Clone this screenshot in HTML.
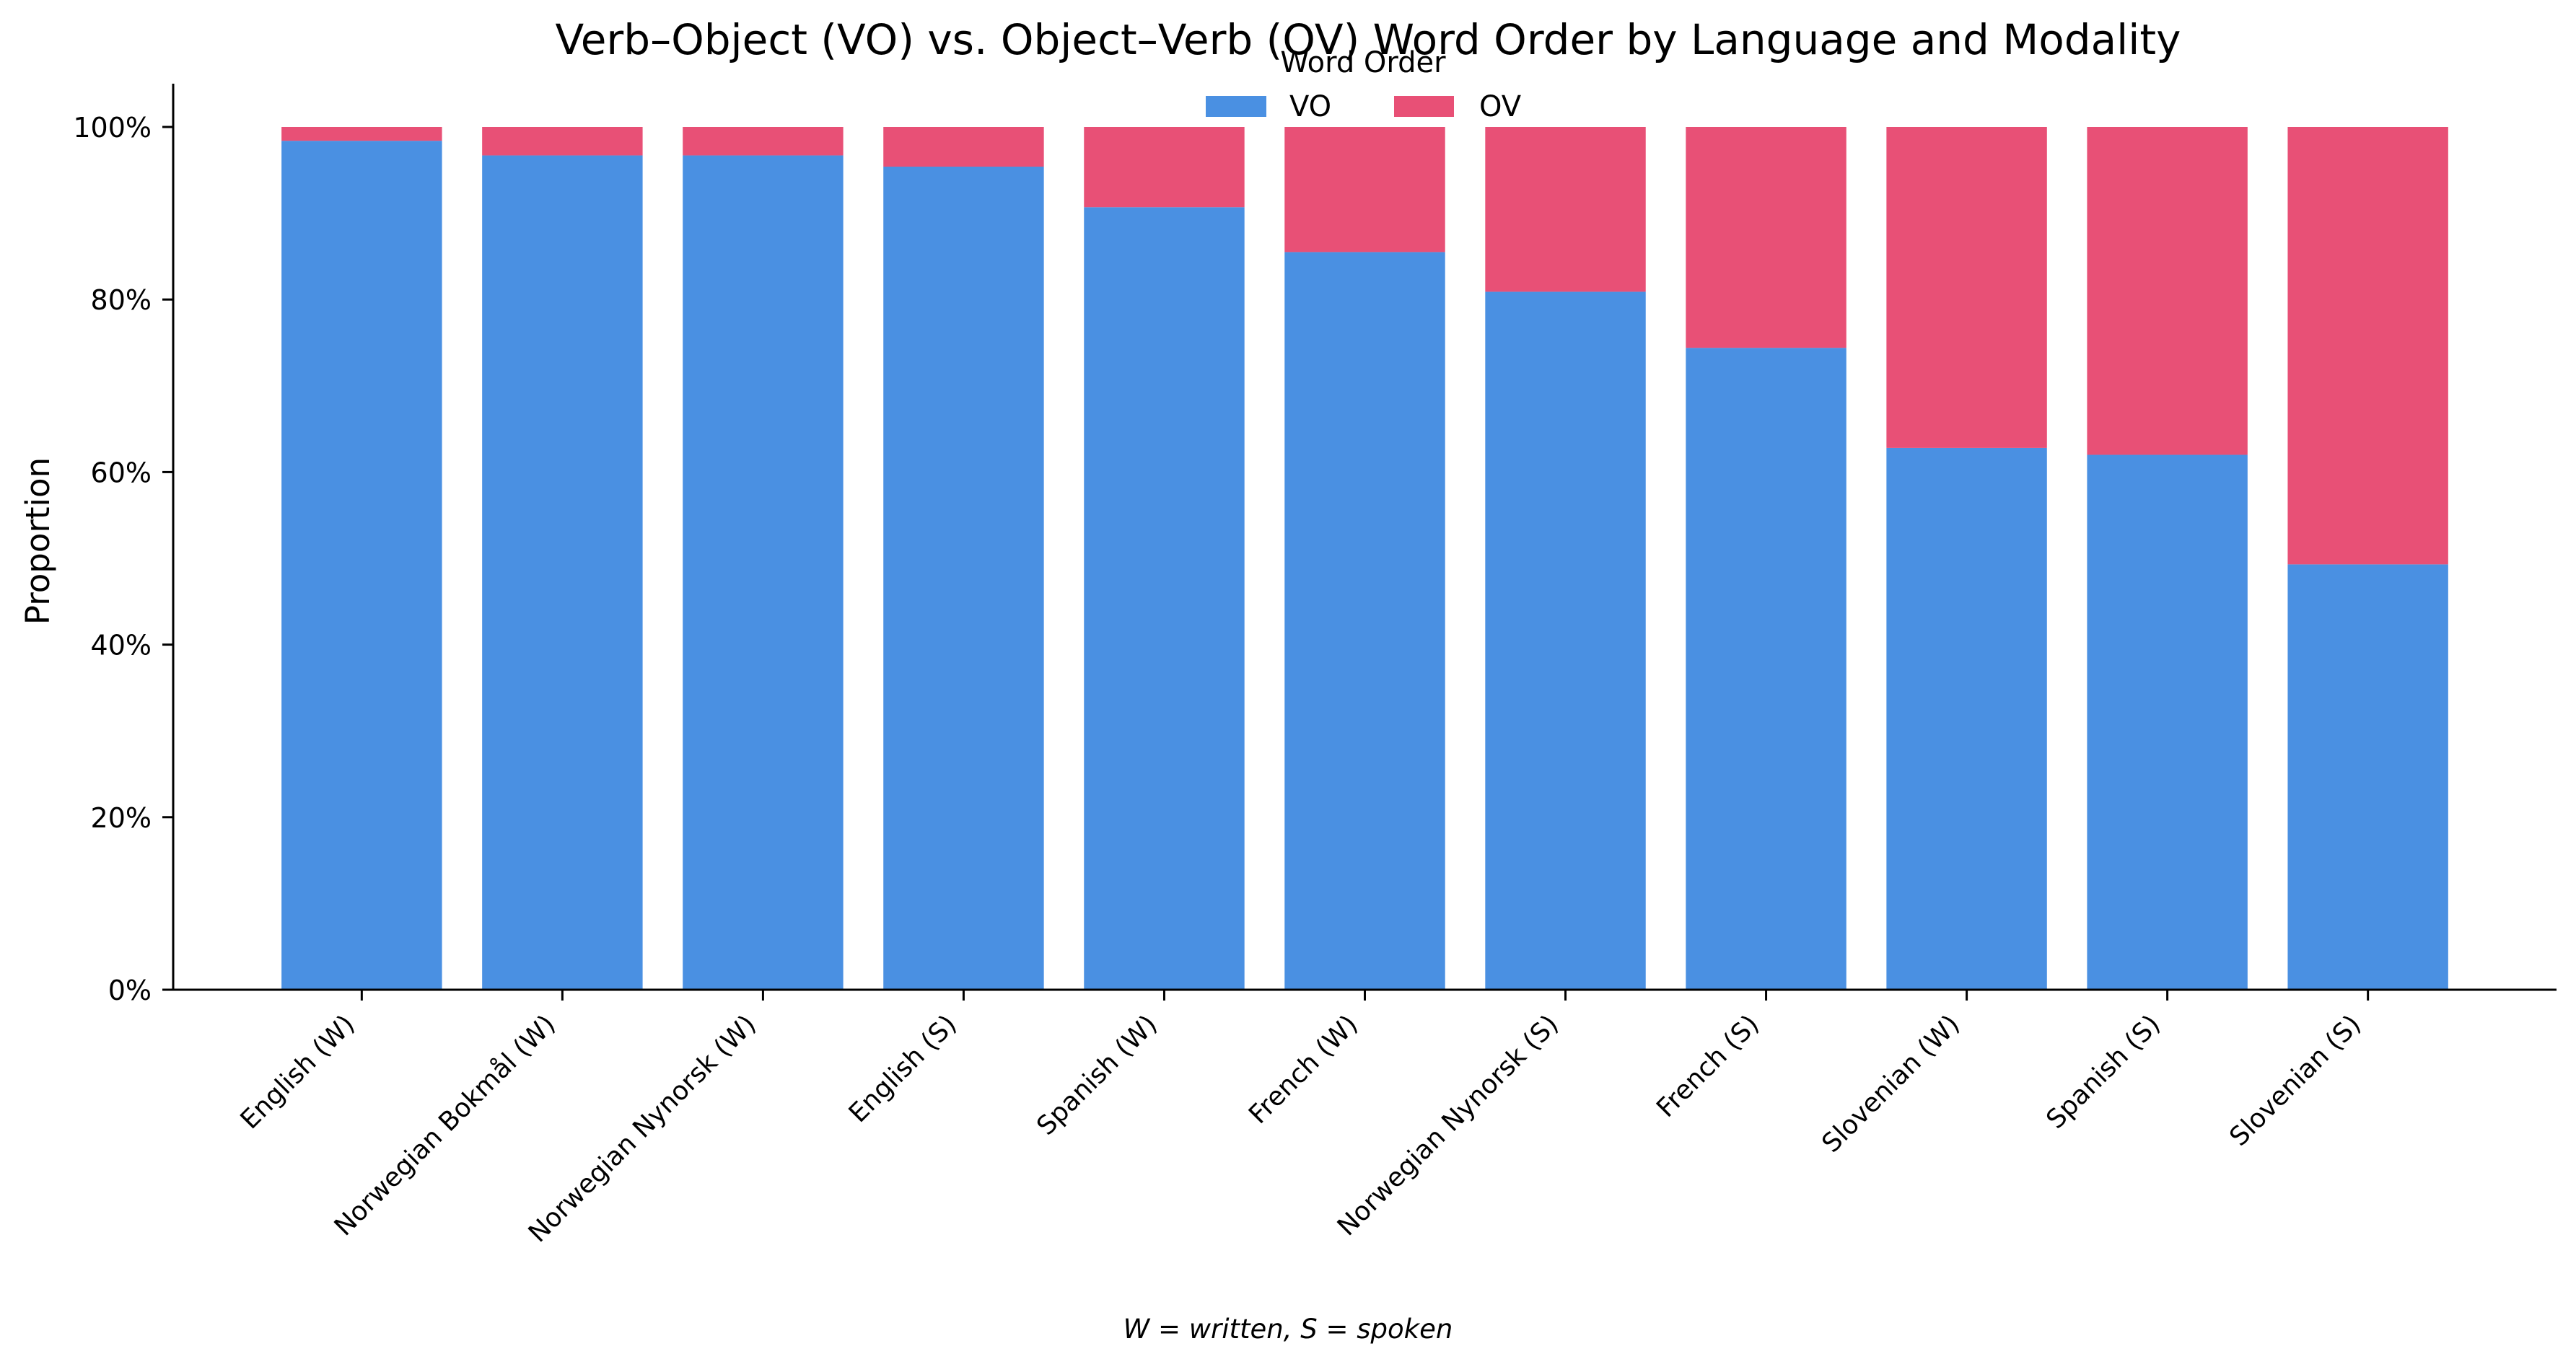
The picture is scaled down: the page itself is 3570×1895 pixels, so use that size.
<!DOCTYPE html>
<html><head><meta charset="utf-8"><style>
html,body{margin:0;padding:0;background:#fff;}
svg{display:block;font-family:"DejaVu Sans","Liberation Sans",sans-serif;}
</style></head><body>
<svg id="chart" width="3570" height="1895" viewBox="0 0 3570 1895" xmlns="http://www.w3.org/2000/svg">
<rect width="3570" height="1895" fill="#fff"/>
<text x="1896" y="75" font-size="58" text-anchor="middle">Verb–Object (VO) vs. Object–Verb (OV) Word Order by Language and Modality</text>
<g id="bars"></g>
<g id="axes"></g>
<text transform="translate(68,750) rotate(-90)" font-size="45" text-anchor="middle">Proportion</text>
<g>
<text x="1889" y="100" font-size="40" text-anchor="middle">Word Order</text>
<g><rect x="1671" y="133" width="84" height="29" fill="#4A90E2"/><text x="1787" y="161" font-size="40">VO</text></g>
<g><rect x="1932" y="133" width="83" height="29" fill="#E85076"/><text x="2050" y="161" font-size="40">OV</text></g>
</g>
<text x="1785" y="1855" font-size="37" font-style="italic" text-anchor="middle">W = written, S = spoken</text>
</svg>
<script>
const categories = ["English (W)","Norwegian Bokmål (W)","Norwegian Nynorsk (W)","English (S)","Spanish (W)","French (W)","Norwegian Nynorsk (S)","French (S)","Slovenian (W)","Spanish (S)","Slovenian (S)"];
const voValues = [0.984,0.967,0.967,0.954,0.907,0.855,0.809,0.744,0.628,0.620,0.493];
const ovValues = [0.016,0.033,0.033,0.046,0.093,0.145,0.191,0.256,0.372,0.380,0.507];
const yTicks = [0,0.2,0.4,0.6,0.8,1.0];
const yTickLabels = ["0%","20%","40%","60%","80%","100%"];

const NS = "http://www.w3.org/2000/svg";
const y0 = 1372, y1 = 176;
function yScale(v){ return y0 - v*(y0-y1); }
const xLeft = 240, xRight = 3543, xMin = -0.94, xMax = categories.length - 1 + 0.94;
function xScale(i){ return xLeft + (i - xMin)/(xMax - xMin)*(xRight - xLeft); }
const bw = (xScale(0.4) - xScale(-0.4));
function mk(tag, attrs, parent){ const e=document.createElementNS(NS,tag); for(const k in attrs) e.setAttribute(k,attrs[k]); parent.appendChild(e); return e; }
const bars = document.getElementById('bars');
const axes = document.getElementById('axes');
categories.forEach((c,i)=>{
  const cx = xScale(i);
  const vo = mk('rect',{x:cx-bw/2,y:yScale(voValues[i]),width:bw,height:yScale(0)-yScale(voValues[i]),fill:'#4A90E2'},bars);
  
  
  const ov = mk('rect',{x:cx-bw/2,y:yScale(voValues[i]+ovValues[i]),width:bw,height:yScale(voValues[i])-yScale(voValues[i]+ovValues[i]),fill:'#E85076'},bars);
  
  
  const t = mk('line',{x1:cx,x2:cx,y1:y0,y2:y0+15,stroke:'#000','stroke-width':3},axes);
  
  
  const lb = mk('text',{transform:`translate(${cx-8},${y0+50}) rotate(-45)`,'font-size':36,'text-anchor':'end'},axes);
  lb.textContent = c;
  
  
});
yTicks.forEach((v,i)=>{
  const y=yScale(v);
  const t = mk('line',{x1:225,x2:240,y1:y,y2:y,stroke:'#000','stroke-width':3},axes);
  
  
  const lb = mk('text',{x:210,y:y+14,'font-size':38,'text-anchor':'end'},axes);
  lb.textContent = yTickLabels[i];
  
  
});
const ly = mk('line',{x1:240,x2:240,y1:116,y2:y0+1.5,stroke:'#000','stroke-width':3},axes);


const lx = mk('line',{x1:238.5,x2:xRight,y1:y0,y2:y0,stroke:'#000','stroke-width':3},axes);


</script>
</body></html>
